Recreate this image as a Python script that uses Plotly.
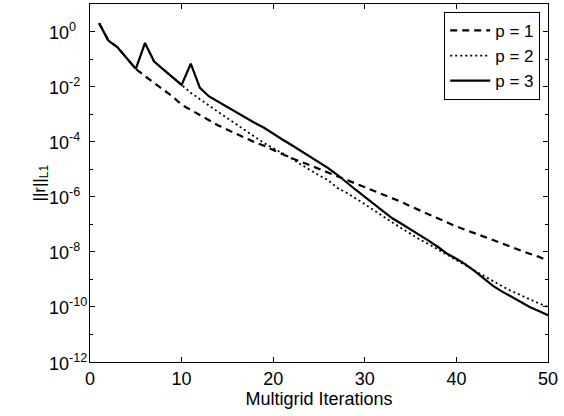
import math
import plotly.graph_objects as go

# Multigrid iteration number
iterations = list(range(1, 51))

# L1 norm of the residual for each polynomial order p
resid_p1 = [2.0, 0.47, 0.27, 0.11, 0.044, 0.024, 0.0135, 7.6e-3, 4.4e-3, 2.2e-3,
            1.4e-3, 9.3e-4, 6.0e-4, 3.9e-4, 2.7e-4, 1.9e-4, 1.35e-4, 9.5e-5, 7.1e-5, 5.0e-5,
            3.5e-5, 2.5e-5, 1.9e-5, 1.4e-5, 1.0e-5, 7.6e-6, 5.4e-6, 4.0e-6, 3.0e-6, 2.2e-6,
            1.6e-6, 1.17e-6, 8.7e-7, 6.5e-7, 4.5e-7, 3.2e-7, 2.3e-7, 1.7e-7, 1.17e-7, 8.3e-8,
            6.3e-8, 4.7e-8, 3.5e-8, 2.6e-8, 2.0e-8, 1.5e-8, 1.12e-8, 8.5e-9, 6.6e-9, 4.8e-9]

resid_p2 = [2.0, 0.47, 0.27, 0.11, 0.044, 0.38, 0.081, 0.042, 0.022, 0.0115,
            6.0e-3, 3.5e-3, 2.0e-3, 1.2e-3, 7.1e-4, 4.2e-4, 2.5e-4, 1.5e-4, 8.9e-5, 5.8e-5,
            3.8e-5, 2.5e-5, 1.5e-5, 9.3e-6, 6.0e-6, 4.0e-6, 2.1e-6, 1.4e-6, 8.9e-7, 5.4e-7,
            3.2e-7, 1.9e-7, 1.17e-7, 7.2e-8, 4.5e-8, 2.8e-8, 1.9e-8, 1.26e-8, 7.9e-9, 5.0e-9,
            3.2e-9, 2.0e-9, 1.3e-9, 8.5e-10, 5.6e-10, 3.8e-10, 2.6e-10, 1.9e-10, 1.35e-10, 1.0e-10]

resid_p3 = [2.0, 0.47, 0.27, 0.11, 0.044, 0.38, 0.081, 0.042, 0.022, 0.0115,
            0.068, 9.0e-3, 4.4e-3, 2.8e-3, 1.8e-3, 1.2e-3, 7.6e-4, 4.8e-4, 3.2e-4, 1.9e-4,
            1.2e-4, 7.6e-5, 4.7e-5, 3.0e-5, 1.8e-5, 1.1e-5, 6.3e-6, 3.3e-6, 1.8e-6, 1.0e-6,
            5.5e-7, 3.0e-7, 1.66e-7, 1.05e-7, 6.6e-8, 4.2e-8, 2.5e-8, 1.5e-8, 8.5e-9, 5.6e-9,
            3.5e-9, 2.0e-9, 1.07e-9, 5.8e-10, 3.6e-10, 2.3e-10, 1.5e-10, 1.0e-10, 7.1e-11, 5.0e-11]

series_names = ["p = 1", "p = 2", "p = 3"]

x_ticks = [0, 10, 20, 30, 40, 50]
y_tickvals = [1e0, 1e-2, 1e-4, 1e-6, 1e-8, 1e-10, 1e-12]
y_ticktext = ["10<sup>0</sup>", "10<sup>-2</sup>", "10<sup>-4</sup>", "10<sup>-6</sup>",
              "10<sup>-8</sup>", "10<sup>-10</sup>", "10<sup>-12</sup>"]

FONT = "Liberation Sans, Arial, Helvetica, sans-serif"
TICK_SIZE = 18

fig = go.Figure()
styles = [
    dict(dash="7px,5px", width=2.2),
    dict(dash="2px,3px", width=1.8),
    dict(dash="solid", width=2.2),
]
for name, ys, st in zip(series_names, [resid_p1, resid_p2, resid_p3], styles):
    fig.add_trace(go.Scatter(
        x=iterations, y=ys, name=name, mode="lines",
        line=dict(color="black", width=st["width"], dash=st["dash"]),
    ))

axis_common = dict(
    showline=True, linecolor="black", linewidth=1, mirror="ticks",
    ticks="inside", ticklen=5, tickcolor="black", showgrid=False, zeroline=False,
    tickfont=dict(family=FONT, size=TICK_SIZE, color="black"),
)

# Left-aligned power-of-ten labels for the log axis, placed on the axis scale
for val, txt in zip(y_tickvals, y_ticktext):
    fig.add_annotation(
        xref="paper", yref="y", x=-0.094, y=math.log10(val),
        text=txt, showarrow=False, xanchor="left", yanchor="middle",
        font=dict(family=FONT, size=TICK_SIZE, color="black"),
    )

fig.add_annotation(
    xref="paper", yref="paper", x=-0.108, y=0.5,
    text="||r||<sub>L1</sub>", showarrow=False, textangle=-90,
    xanchor="center", yanchor="middle",
    font=dict(family=FONT, size=17, color="black"),
)

fig.update_layout(
    width=564, height=416,
    margin=dict(l=90, r=16, t=4, b=54),
    paper_bgcolor="white", plot_bgcolor="white",
    font=dict(family=FONT, size=17, color="black"),
    showlegend=True,
    legend=dict(
        x=0.983, y=0.978, xanchor="right", yanchor="top",
        bgcolor="white", bordercolor="black", borderwidth=1,
        font=dict(family=FONT, size=17, color="black"),
        tracegroupgap=0, itemwidth=40,
    ),
    xaxis=dict(
        range=[0, 50], tickvals=x_ticks,
        title=dict(text="Multigrid Iterations", standoff=2,
                   font=dict(family=FONT, size=18, color="black")),
        **axis_common,
    ),
    yaxis=dict(
        type="log", range=[-12, 1],
        tickvals=y_tickvals, showticklabels=False,
        minor=dict(dtick=1, ticks="inside", ticklen=3, tickcolor="black"),
        **axis_common,
    ),
)

fig.write_html("out.html")
